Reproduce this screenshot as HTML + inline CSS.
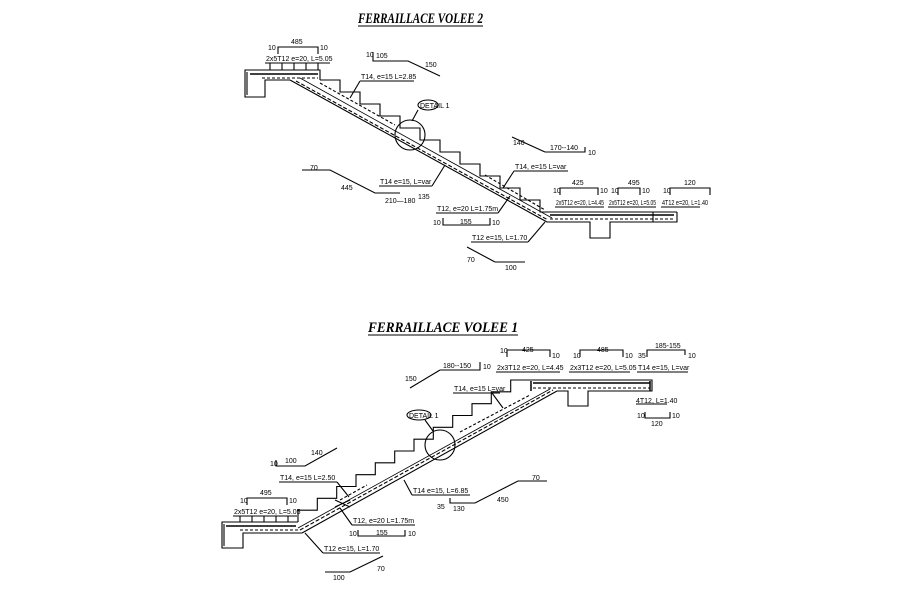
<!DOCTYPE html>
<html><head><meta charset="utf-8"><style>
html,body{margin:0;padding:0;background:#fff}
svg{display:block}
text{font-family:"Liberation Sans",sans-serif;font-size:7px;fill:#000}
.t{font-family:"Liberation Serif",serif;font-weight:bold;font-style:italic;font-size:15px}
</style></head><body>
<svg width="898" height="592" viewBox="0 0 898 592" xmlns="http://www.w3.org/2000/svg" fill="none" stroke="#000" stroke-width="1.1">
<!-- ===== VOLEE 2 ===== -->
<text class="t" x="358" y="23" stroke="none" textLength="125" lengthAdjust="spacingAndGlyphs">FERRAILLACE  VOLEE  2</text>
<line x1="358" y1="26" x2="483" y2="26"/>
<polyline points="320,80 320,70 245,70 245,97 265,97 265,80 290,80"/>
<line x1="247" y1="72" x2="247" y2="95"/>
<line x1="250" y1="74" x2="318" y2="74" stroke-width="1.5"/>
<line x1="262" y1="78" x2="318" y2="78" stroke-dasharray="3,2"/>
<polyline points="320,80 340,80 340,92 360,92 360,104 380,104 380,116 400,116 400,128 420,128 420,140 440,140 440,152 460,152 460,164 480,164 480,176 500,176 500,188 520,188 520,200 540,200 540,212 677,212"/>
<line x1="290" y1="80" x2="547" y2="222"/>
<line x1="300" y1="78" x2="552" y2="218" stroke-width="0.8"/>
<line x1="296" y1="81" x2="548" y2="220" stroke-dasharray="4,2"/>
<line x1="320" y1="83" x2="395" y2="125" stroke-dasharray="3,2"/>
<line x1="485" y1="175" x2="545" y2="210" stroke-dasharray="3,2"/>
<polyline points="547,222 590,222 590,238 610,238 610,222 677,222 677,212"/>
<line x1="550" y1="215" x2="674" y2="215" stroke-width="1.5"/>
<line x1="550" y1="219" x2="674" y2="219" stroke-dasharray="3,2"/>
<line x1="653" y1="212" x2="653" y2="222"/>
<circle cx="410" cy="135" r="15"/>
<ellipse cx="428" cy="105" rx="10" ry="5"/>
<text x="420" y="108" stroke="none" font-size="6">DETAIL 1</text>
<line x1="418" y1="110" x2="412" y2="121"/>
<polyline points="278,54 278,47 318,47 318,54"/><text x="291" y="44" stroke="none">485</text>
<text x="268" y="50" stroke="none">10</text><text x="320" y="50" stroke="none">10</text>
<text x="266" y="61" stroke="none">2x5T12 e=20, L=5.05</text><line x1="265" y1="63" x2="330" y2="63"/>
<line x1="270" y1="63" x2="270" y2="70"/><line x1="282" y1="63" x2="282" y2="70"/><line x1="294" y1="63" x2="294" y2="70"/><line x1="306" y1="63" x2="306" y2="70"/><line x1="318" y1="63" x2="318" y2="70"/>
<text x="366" y="57" stroke="none">10</text><polyline points="373,52 373,61 408,61 440,76"/><text x="376" y="58" stroke="none">105</text>
<text x="425" y="67" stroke="none">150</text>
<text x="361" y="79" stroke="none">T14, e=15 L=2.85</text><line x1="360" y1="81" x2="414" y2="81"/><line x1="360" y1="81" x2="350" y2="98"/>
<text x="513" y="145" stroke="none">140</text><line x1="512" y1="137" x2="545" y2="152"/>
<polyline points="545,152 585,152 585,147"/><text x="550" y="150" stroke="none">170--140</text><text x="588" y="155" stroke="none">10</text>
<text x="515" y="169" stroke="none">T14, e=15 L=var</text><line x1="514" y1="171" x2="568" y2="171"/><line x1="514" y1="171" x2="503" y2="188"/>
<text x="310" y="170" stroke="none">70</text><polyline points="302,170 330,170 375,193 400,193"/>
<text x="341" y="190" stroke="none">445</text>
<text x="380" y="184" stroke="none">T14 e=15, L=var</text><line x1="379" y1="186" x2="432" y2="186"/><line x1="432" y1="186" x2="445" y2="165"/>
<text x="385" y="203" stroke="none">210—180</text><text x="418" y="199" stroke="none">135</text>
<text x="437" y="211" stroke="none">T12, e=20 L=1.75m</text><line x1="436" y1="213" x2="498" y2="213"/><line x1="498" y1="213" x2="510" y2="196"/>
<text x="433" y="225" stroke="none">10</text><polyline points="443,218 443,225 490,225 490,218"/><text x="460" y="224" stroke="none">155</text><text x="492" y="225" stroke="none">10</text>
<text x="472" y="240" stroke="none">T12 e=15, L=1.70</text><line x1="471" y1="242" x2="528" y2="242"/><line x1="528" y1="242" x2="545" y2="222"/>
<line x1="467" y1="247" x2="495" y2="262"/><line x1="495" y1="262" x2="525" y2="262"/><text x="467" y="262" stroke="none">70</text><text x="505" y="270" stroke="none">100</text>
<text x="553" y="193" stroke="none">10</text><polyline points="560,195 560,188 598,188 598,195"/><text x="600" y="193" stroke="none">10</text><text x="572" y="185" stroke="none">425</text>
<text x="611" y="193" stroke="none">10</text><polyline points="618,195 618,188 640,188 640,195"/><text x="642" y="193" stroke="none">10</text><text x="628" y="185" stroke="none">495</text>
<text x="663" y="193" stroke="none">10</text><polyline points="670,195 670,188 710,188 710,195"/><text x="684" y="185" stroke="none">120</text>
<text x="556" y="205" stroke="none" font-size="5.5" textLength="48" lengthAdjust="spacingAndGlyphs">2x5T12 e=20, L=4.45</text><line x1="555" y1="207" x2="604" y2="207"/>
<text x="609" y="205" stroke="none" font-size="5.5" textLength="47" lengthAdjust="spacingAndGlyphs">2x5T12 e=20, L=5.05</text><line x1="608" y1="207" x2="656" y2="207"/>
<text x="662" y="205" stroke="none" font-size="5.5" textLength="46" lengthAdjust="spacingAndGlyphs">4T12 e=20, L=1.40</text><line x1="661" y1="207" x2="700" y2="207"/>

<!-- ===== VOLEE 1 ===== -->
<text class="t" x="368" y="332" stroke="none" textLength="150" lengthAdjust="spacingAndGlyphs">FERRAILLACE  VOLEE  1</text>
<line x1="368" y1="335" x2="518" y2="335"/>
<polyline points="530,380 652,380 652,391 588,391 588,406 568,406 568,391 557,391"/>
<line x1="533" y1="383" x2="650" y2="383" stroke-width="1.5"/>
<line x1="533" y1="388" x2="650" y2="388" stroke-dasharray="3,2"/>
<line x1="531" y1="381" x2="531" y2="391" stroke-width="1.5"/>
<line x1="650" y1="381" x2="650" y2="391" stroke-width="1.5"/>
<polyline points="298,522 298,510.2 317.3,510.2 317.3,498.3 336.7,498.3 336.7,486.5 356,486.5 356,474.7 375.3,474.7 375.3,462.8 394.7,462.8 394.7,451 414,451 414,439.2 433.3,439.2 433.3,427.3 452.7,427.3 452.7,415.5 472,415.5 472,403.7 491.3,403.7 491.3,391.8 510.7,391.8 510.7,380 530,380"/>
<line x1="302" y1="533" x2="557" y2="391"/>
<line x1="298" y1="528" x2="550" y2="389" stroke-width="0.8"/>
<line x1="300" y1="530" x2="553" y2="390" stroke-dasharray="4,2"/>
<line x1="340" y1="500" x2="367" y2="485" stroke-dasharray="3,2"/>
<line x1="460" y1="432" x2="530" y2="395" stroke-dasharray="3,2"/>
<line x1="335" y1="507" x2="350" y2="500"/><line x1="335" y1="500" x2="350" y2="507"/>
<polyline points="298,522 222,522 222,548 243,548 243,533 302,533"/>
<line x1="224" y1="524" x2="224" y2="546"/>
<line x1="226" y1="526" x2="296" y2="526" stroke-width="1.5"/>
<line x1="240" y1="530" x2="298" y2="530" stroke-dasharray="3,2"/>
<circle cx="440" cy="445" r="15"/>
<ellipse cx="419" cy="415" rx="12" ry="5"/>
<text x="409" y="418" stroke="none" font-size="6">DETAIL 1</text>
<line x1="425" y1="420" x2="433" y2="431"/>
<text x="405" y="381" stroke="none">150</text><line x1="410" y1="388" x2="440" y2="370"/>
<polyline points="440,370 480,370 480,362"/><text x="443" y="368" stroke="none">180--150</text><text x="483" y="369" stroke="none">10</text>
<text x="454" y="391" stroke="none">T14, e=15 L=var</text><line x1="453" y1="393" x2="500" y2="393"/><line x1="492" y1="393" x2="503" y2="408"/>
<text x="500" y="353" stroke="none">10</text><polyline points="507,357 507,350 550,350 550,357"/><text x="552" y="358" stroke="none">10</text><text x="522" y="352" stroke="none">425</text>
<text x="573" y="358" stroke="none">10</text><polyline points="580,357 580,350 623,350 623,357"/><text x="625" y="358" stroke="none">10</text><text x="597" y="352" stroke="none">485</text>
<text x="638" y="358" stroke="none">35</text><polyline points="647,357 647,350 685,350 685,355"/><text x="688" y="358" stroke="none">10</text><text x="655" y="348" stroke="none">185-155</text>
<text x="497" y="370" stroke="none" font-size="6.5">2x3T12 e=20, L=4.45</text><line x1="496" y1="372" x2="560" y2="372"/>
<text x="570" y="370" stroke="none" font-size="6.5">2x3T12 e=20, L=5.05</text><line x1="569" y1="372" x2="630" y2="372"/>
<text x="638" y="370" stroke="none" font-size="6.5">T14 e=15, L=var</text><line x1="637" y1="372" x2="688" y2="372"/>
<text x="636" y="403" stroke="none">4T12, L=1.40</text><line x1="636" y1="404" x2="667" y2="404"/>
<text x="637" y="418" stroke="none">10</text><polyline points="645,412 645,418 670,418 670,412"/><text x="672" y="418" stroke="none">10</text><text x="651" y="426" stroke="none">120</text>
<text x="270" y="466" stroke="none">10</text><polyline points="276,460 276,466 305,466 337,448"/><text x="285" y="463" stroke="none">100</text><text x="311" y="455" stroke="none">140</text>
<text x="280" y="480" stroke="none">T14, e=15 L=2.50</text><line x1="279" y1="482" x2="337" y2="482"/><line x1="337" y1="482" x2="349" y2="497"/>
<text x="413" y="493" stroke="none">T14 e=15, L=6.85</text><line x1="412" y1="495" x2="470" y2="495"/><line x1="412" y1="495" x2="404" y2="480"/>
<text x="532" y="480" stroke="none">70</text><polyline points="547,481 518,481 475,503 450,503 450,498"/><text x="497" y="502" stroke="none">450</text>
<text x="437" y="509" stroke="none">35</text><text x="453" y="511" stroke="none">130</text>
<text x="240" y="503" stroke="none">10</text><polyline points="247,505 247,498 287,498 287,505"/><text x="289" y="503" stroke="none">10</text><text x="260" y="495" stroke="none">495</text>
<text x="234" y="514" stroke="none" font-size="6.5">2x5T12 e=20, L=5.05</text><line x1="233" y1="516" x2="297" y2="516"/>
<line x1="240" y1="516" x2="240" y2="522"/><line x1="252" y1="516" x2="252" y2="522"/><line x1="264" y1="516" x2="264" y2="522"/><line x1="276" y1="516" x2="276" y2="522"/><line x1="288" y1="516" x2="288" y2="522"/>
<text x="353" y="523" stroke="none">T12, e=20 L=1.75m</text><line x1="352" y1="525" x2="415" y2="525"/><line x1="352" y1="525" x2="340" y2="508"/>
<text x="349" y="536" stroke="none">10</text><polyline points="358,530 358,536 405,536 405,530"/><text x="376" y="535" stroke="none">155</text><text x="408" y="536" stroke="none">10</text>
<text x="324" y="551" stroke="none">T12 e=15, L=1.70</text><line x1="323" y1="553" x2="380" y2="553"/><line x1="323" y1="553" x2="305" y2="533"/>
<polyline points="325,572 350,572 383,556"/><text x="377" y="571" stroke="none">70</text><text x="333" y="580" stroke="none">100</text>
</svg>
</body></html>
